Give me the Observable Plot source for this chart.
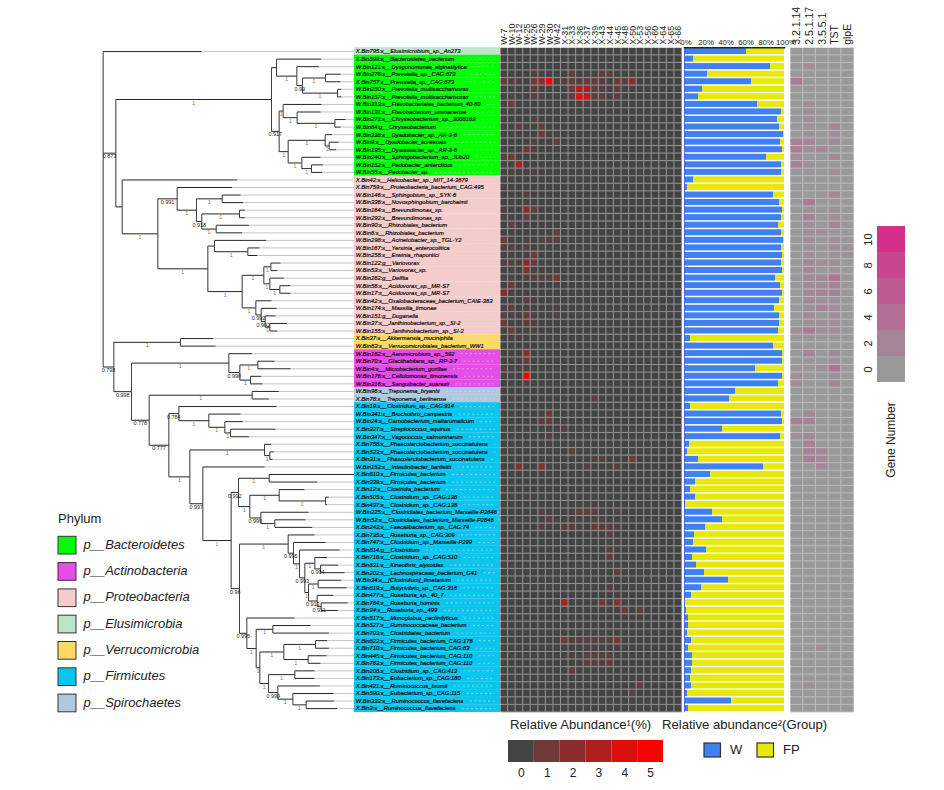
<!DOCTYPE html>
<html><head><meta charset="utf-8">
<script src="https://cdn.jsdelivr.net/npm/d3@7"></script>
<script src="https://cdn.jsdelivr.net/npm/@observablehq/plot@0.6"></script>
<style>
html,body{margin:0;padding:0;background:#fff}
#chart{position:relative;width:944px;height:790px;overflow:hidden;font-family:"Liberation Sans",Arial,sans-serif;color:#222}
#chart svg{position:absolute;max-width:none;overflow:visible}
.t{position:absolute;white-space:nowrap}
</style></head><body><div id="chart"></div>
<script>
const labels = ["X.Bin795:s__Elusimicrobium_sp._An273","X.Bin599:s__Bacteroidetes_bacterium","W.Bin121:s__Dysgonomonas_alginatilytica","W.Bin276:s__Prevotella_sp._CAG:873","X.Bin757:s__Prevotella_sp._CAG:873","W.Bin250:s__Prevotella_multisaccharivorax","W.Bin157:s__Prevotella_multisaccharivorax","W.Bin313:s__Flavobacteriales_bacterium_40-80","W.Bin131:s__Flavobacterium_ummariense","W.Bin271:s__Chryseobacterium_sp._3008163","W.Bin84:g__Chryseobacterium","W.Bin338:s__Dyadobacter_sp._AR-3-6","W.Bin9:s__Dyadobacter_koreensis","W.Bin195:s__Dyadobacter_sp._AR-3-6","W.Bin240:s__Sphingobacterium_sp._JUb20","W.Bin152:s__Pedobacter_antarcticus","W.Bin55:s__Pedobacter_sp.","X.Bin42:s__Helicobacter_sp._MIT_14-3879","X.Bin759:s__Proteobacteria_bacterium_CAG:495","W.Bin146:s__Sphingobium_sp._SYK-6","W.Bin336:s__Novosphingobium_barchaimii","W.Bin164:s__Brevundimonas_sp.","W.Bin292:s__Brevundimonas_sp.","W.Bin90:s__Rhizobiales_bacterium","W.Bin6:s__Rhizobiales_bacterium","W.Bin298:s__Acinetobacter_sp._TGL-Y2","W.Bin167:s__Yersinia_enterocolitica","W.Bin258:s__Erwinia_rhapontici","W.Bin122:g__Variovorax","W.Bin53:s__Variovorax_sp.","W.Bin262:g__Delftia","W.Bin56:s__Acidovorax_sp._MR-S7","W.Bin17:s__Acidovorax_sp._MR-S7","W.Bin42:s__Oxalobacteraceae_bacterium_CAIE-383","W.Bin174:s__Massilia_timonae","W.Bin151:g__Duganella","W.Bin37:s__Janthinobacterium_sp._SI-2","W.Bin155:s__Janthinobacterium_sp._SI-2","X.Bin37:s__Akkermansia_muciniphila","W.Bin83:s__Verrucomicrobiales_bacterium_WW1","W.Bin162:s__Aeromicrobium_sp._592","W.Bin70:s__Glaciihabitans_sp._RP-3-7","W.Bin4:s__Microbacterium_gorillae","W.Bin176:s__Cellulomonas_timonensis","W.Bin316:s__Sanguibacter_suarezii","W.Bin96:s__Treponema_bryantii","X.Bin78:s__Treponema_berlinense","X.Bin19:s__Clostridium_sp._CAG:914","W.Bin341:s__Brochothrix_campestris","W.Bin24:s__Carnobacterium_maltaromaticum","X.Bin327:s__Streptococcus_equinus","W.Bin347:s__Vagococcus_salmoninarum","X.Bin758:s__Phascolarctobacterium_succinatutens","X.Bin523:s__Phascolarctobacterium_succinatutens","X.Bin31:s__Phascolarctobacterium_succinatutens","W.Bin153:s__Intestinibacter_bartlettii","X.Bin610:s__Firmicutes_bacterium","X.Bin339:s__Firmicutes_bacterium","X.Bin12:s__Clostridia_bacterium","X.Bin505:s__Clostridium_sp._CAG:138","X.Bin437:s__Clostridium_sp._CAG:138","W.Bin225:s__Clostridiales_bacterium_Marseille-P2846","W.Bin52:s__Clostridiales_bacterium_Marseille-P2846","X.Bin243:s__Faecalibacterium_sp._CAG:74","X.Bin735:s__Roseburia_sp._CAG:309","X.Bin747:s__Clostridium_sp._Marseille-P299","X.Bin814:g__Clostridium","X.Bin716:s__Clostridium_sp._CAG:510","X.Bin831:s__Kineothrix_alysoides","X.Bin202:s__Lachnospiraceae_bacterium_G41","W.Bin34:s__[Clostridium]_fimetarium","X.Bin819:s__Butyrivibrio_sp._CAG:318","X.Bin477:s__Roseburia_sp._40_7","X.Bin784:s__Roseburia_hominis","X.Bin34:s__Roseburia_sp._499","X.Bin517:s__Monoglobus_pectinilyticus","X.Bin527:s__Ruminococcaceae_bacterium","X.Bin703:s__Clostridiales_bacterium","X.Bin822:s__Firmicutes_bacterium_CAG:176","X.Bin710:s__Firmicutes_bacterium_CAG:83","X.Bin445:s__Firmicutes_bacterium_CAG:110","X.Bin783:s__Firmicutes_bacterium_CAG:110","X.Bin208:s__Clostridium_sp._CAG:413","X.Bin173:s__Eubacterium_sp._CAG:180","X.Bin421:s__Ruminococcus_bromii","X.Bin590:s__Eubacterium_sp._CAG:115","W.Bin333:s__Ruminococcus_flavefaciens","X.Bin3:s__Ruminococcus_flavefaciens"];

const phyla = ["p__Bacteroidetes","p__Actinobacteria","p__Proteobacteria","p__Elusimicrobia","p__Verrucomicrobia","p__Firmicutes","p__Spirochaetes"];
const phylumColors = ["#00ff00","#e64ce8","#f4cccc","#bde5c8","#ffd966","#0ac5ee","#b0c9de"];
const phylumRuns = [["p__Elusimicrobia",1],["p__Bacteroidetes",16],["p__Proteobacteria",21],["p__Verrucomicrobia",2],["p__Actinobacteria",5],["p__Spirochaetes",2],["p__Firmicutes",41]];

const sampleCols = ["W-7","W-10","W-12","W-25","W-26","W-29","W-30","W-42","X-31","X-33","X-36","X-37","X-39","X-43","X-44","X-45","X-48","X-50","X-53","X-56","X-60","X-64","X-65","X-66"];
// [row, column, relative abundance %]; every other cell is about 0
const abundance = [[3,4,.4],[3,5,.3],[3,9,.8],[3,13,.7],[3,14,.7],
[4,0,.9],[4,1,.5],[4,2,.3],[4,4,1.4],[4,5,1.8],[4,6,5],[4,8,.6],[4,9,.8],[4,10,.3],[4,11,.8],[4,12,.8],[4,13,.5],[4,15,1.5],[4,16,.5],[4,17,2],
[5,4,.6],[5,9,.9],[5,10,3],[5,11,3],[5,12,.7],[5,13,.3],[5,15,.5],[6,1,.3],[6,4,.5],[6,5,.3],[6,9,.7],[6,10,4],[6,11,3.5],[6,12,.5],[6,13,.5],[6,15,.6],
[7,1,.8],[8,6,.2],[9,4,.4],[10,2,.6],[10,5,.8],[11,5,.9],[11,6,.3],[12,4,.2],[12,7,.7],[13,3,1.2],[13,4,.3],[14,0,.4],[14,1,1.2],[15,2,3],[16,1,.3],[16,4,.2],
[19,3,.4],[20,3,.2],[21,0,.4],[21,3,1.8],[21,4,.5],[22,0,.2],[22,3,.8],[23,1,.7],[24,7,.7],[25,0,.9],[25,3,.2],[25,5,.3],[25,6,.5],[25,7,.5],[26,0,.4],[26,1,.3],[26,3,.3],[27,4,1],
[28,0,.4],[28,1,.4],[28,2,.3],[28,3,1.9],[28,4,.8],[29,3,1.7],[30,0,.4],[30,1,.3],[30,3,.4],[30,4,.4],[30,5,.4],[30,6,.4],[30,7,1.5],[31,1,1.2],[32,0,2],[33,3,.6],[34,1,.6],[34,3,.2],
[35,0,.5],[35,3,.9],[35,4,.2],[35,7,.2],[36,0,.9],[36,3,.5],[36,4,.3],[37,1,1.1],[37,3,.2],[37,4,.3],[40,3,1.8],[41,3,1.2],[42,0,.4],[43,3,5],[44,3,.5],
[46,12,.5],[48,6,1],[49,5,.6],[49,6,.9],[50,8,.4],[51,6,.5],[53,9,.7],[54,12,.4],[54,13,.4],[54,17,1],[55,2,1.8],[55,5,1.7],[55,11,.3],[55,15,.4],
[61,5,.4],[61,10,.5],[61,11,.6],[61,12,.5],[61,15,.3],[62,6,.7],[62,9,.2],[62,12,.3],[62,13,.3],[63,5,.5],[63,8,.5],[63,9,.7],[63,10,.3],[63,12,.7],[63,13,.6],[63,14,.5],[63,15,.5],
[64,14,.5],[66,14,.6],[67,14,.8],[69,15,.7],[71,14,.3],[73,8,2.8],[73,13,.9],[73,15,1.7],[74,16,.9],[74,18,.7],[78,8,1],[78,9,.3],[78,10,.4],[78,11,.4],[78,12,.4],[78,13,.4],[78,14,.5],[78,15,1.6],
[80,9,.4],[80,11,.5],[80,12,.5],[80,13,.3],[80,14,.3],[81,11,.6],[81,12,.5],[81,13,.5],[81,14,.6],[82,9,.8],[84,18,.7],[85,17,.7]];
const abundanceStops = [0,1,2,3,4,5];
const abundanceColors = ["#444444","#6e3a3a","#8b2c2c","#b01e1e","#dc0f0f","#ff0000"];

// share of group W in each row (%), the rest is FP
const shareW = [62,9,86,23,67,18,14,73,97,93,95,99,96,98,82,97,97,9,3,89,95,98,97,94,97,99,97,98,97,98,91,96,98,95,90,95,95,94,6,89,98,98,71,98,94,51,45,6,97,98,38,96,5,3,14,79,26,11,6,11,1,28,38,21,10,9,22,8,12,20,44,17,7,0.5,2,4,4,3,7,4,8,8,7,6,7,3,47,4];
const groups = ["W","FP"];
const groupColors = ["#4080f0","#e8e80a"];
const shareTicks = [0,20,40,60,80,100];

const genes = ["3.2.1.14","2.5.1.17","3.5.5.1","TST","glpE"];
// [row, gene, gene number]; every other cell is 0
const geneCounts = [[2,1,1],[4,0,3],[7,1,1],[8,1,1],[9,1,1],[10,1,.8],[10,3,1.5],[11,1,.8],[11,3,1],[12,0,2.5],[12,1,2],[12,3,1.5],[13,0,2.5],[13,1,1],[13,2,1.5],[14,0,1],[14,3,1.5],[15,0,2.5],[15,1,1],[16,0,.5],[16,1,.5],[16,3,1],[19,3,1.5],[20,1,3],
[21,1,.6],[21,3,.7],[22,1,2],[22,3,1],[23,1,1],[23,3,2],[24,1,1],[24,2,1],[25,1,1],[25,3,1],[26,1,.5],[26,3,.8],[26,4,.7],[27,1,1],[27,3,.8],[27,4,.7],[28,1,1.5],[28,2,1],[28,3,1],[29,1,1.5],[29,3,.5],[30,1,1.5],[30,2,1.5],[30,3,3.5],[31,1,1.5],[31,2,1.5],[31,3,2],[32,1,1.5],[32,2,2],[32,3,2],[33,1,1.5],[33,2,1],[33,3,1],[34,1,1],[34,2,2],[34,3,1],[35,1,1.2],[35,3,1],[36,1,.8],[36,2,1],[36,3,1],[37,0,1],[37,1,3],[37,2,1],[37,3,1],
[40,1,1.8],[40,3,1.7],[41,3,.7],[42,2,1],[42,3,3.5],[43,0,1],[43,3,.7],[44,0,1],[44,3,1.8],[48,1,1.5],[49,0,2.5],[49,1,2],[51,0,1],[51,1,1.5],[52,1,2.5],[53,1,2],[53,2,1.5],[54,1,2.5],[54,2,1.5],[55,2,1.5],[79,2,1],[84,1,1]];
const geneStops = [0,2,4,6,8,10];
const geneLow = "#999999", geneHigh = "#d6308e";

// Tree: [node depth, support, ...children]; a number is a leaf tip depth, in row order
const tree = [38,null,333,
 [76,0.873,
  [543,1,
   [558,null,692,[619,1,685,[636,0.99,[705,1,750,750],[741,1,752,752]]]],
   [566,0.917,
    [578,1,693,[620,1,690,[733,1,765,750]]],
    [593,1,[704,1,725,[716,1,745,737]],[634,1,690,[663,1,697,695]]]]],
  [95,null,440,
   [202,1,
    [260,0.991,425,[318,1,[395,1,450,458],[334,0.918,[447,1,463,463],[377,1,475,455]]]],
    [352,1,
     [372,null,527,[472,1,507,500]],
     [455,1,
      [520,1,[541,1,570,560],[538,1,580,[568,1,600,600]]],
      [496,1,543,[512,0.992,558,[524,0.992,555,[538,1,590,560]]]]]]]]],
 [70,0.798,
  [270,1,368,375],
  [123,0.998,
   [415,1,485,[448,0.998,[502,1,552,600],[480,1,512,516]]],
   [176,0.778,
    [485,1,565,535],
    [235,0.777,
     [265,0.784,558,[355,1,450,[403,1,457,[420,1,555,475]]]],
     [298,1,
      [522,1,542,[538,1,550,546]],
      [337,0.997,522,
       [422,1,
        [444,0.992,
         [536,1,793,680],
         [478,1,[566,1,642,[705,1,715,710]],[511,0.999,654,[553,1,645,665]]]],
        [447,0.96,
         [593,1,672,[609,0.995,705,[627,1,747,[643,0.993,
            [673,1,710,[690,0.994,743,762]],
            [654,1,[683,1,752,768],[680,0.913,728,[692,0.911,772,742]]]]]]],
         [469,0.995,612,
          [497,1,
           [547,1,660,715],
           [508,1,
            [580,1,[675,1,710,715],[653,1,708,690]],
            [534,1,[613,1,672,672],[562,0.999,688,[607,1,728,[647,1,730,740]]]]]]]]]]]]]]]];
const tipEnd = 793;

/* ---------- derived tables ---------- */
const chart = document.getElementById("chart");
const rows = d3.range(labels.length);
const rowPhylum = phylumRuns.flatMap(([p,n]) => Array(n).fill(p));
const top0 = 47.3, bottom0 = 711.9, H = 790;
const rowY = {domain: rows, range:[top0,bottom0], padding:0, round:false, axis:null};

const heatKey = new Map(abundance.map(([r,c,v]) => [r+"|"+c, v]));
const heatCells = rows.flatMap(r => sampleCols.map((s,c) => ({r, s, v: heatKey.get(r+"|"+c) || 0})));
const geneKey = new Map(geneCounts.map(([r,c,v]) => [r+"|"+c, v]));
const geneCells = rows.flatMap(r => genes.map((g,c) => ({r, g, v: geneKey.get(r+"|"+c) || 0})));
const shares = rows.flatMap(r => [{r, g:"W", v:shareW[r]},{r, g:"FP", v:100-shareW[r]}]);

const hLines = [], vLines = [], tips = [], support = [];
let leaf = 0, alt = 0;
function walk(n, px){
  if (typeof n === "number"){
    const y = leaf++;
    if (px != null) hLines.push({x1:px,x2:n,y});
    tips.push({x1:n,x2:tipEnd,y});
    return y;
  }
  const [x,b,...kids] = n;
  const ys = kids.map(k => walk(k,x));
  const y = (ys[0]+ys[ys.length-1])/2;
  vLines.push({x,y1:ys[0],y2:ys[ys.length-1]});
  if (px != null){
    hLines.push({x1:px,x2:x,y});
    if (b != null) support.push({x:(px+x)/2,y,b,odd:(alt++)%3===2});
  }
  return y;
}
walk(tree,null);

function add(plot,left,top){
  plot.style.left = left+"px"; plot.style.top = (top||0)+"px";
  chart.appendChild(plot);
}
const base = {marginTop:top0, marginBottom:H-bottom0, height:H, marginLeft:0, marginRight:0, style:{background:"transparent",fontFamily:"Liberation Sans, Arial, sans-serif",overflow:"visible"}};

/* ---------- tree ---------- */
add(Plot.plot({...base, width:265,
  x:{domain:[0,795],range:[0,265],axis:null},
  y:{domain:[-0.5,87.5],range:[top0,bottom0],axis:null},
  marks:[
    Plot.link(tips,{x1:"x1",x2:"x2",y1:"y",y2:"y",stroke:"#c4c4c4",strokeWidth:1}),
    Plot.link(hLines,{x1:"x1",x2:"x2",y1:"y",y2:"y",stroke:"#1a1a1a",strokeWidth:0.95}),
    Plot.link(vLines,{x1:"x",x2:"x",y1:"y1",y2:"y2",stroke:"#404040",strokeWidth:1.05}),
    Plot.text(support,{x:"x",y:"y",dy:3.4,text:d=>d.b===1?"1":String(d.b),fontSize:5.4,
      fill:d=>d.b===1?(d.odd?"#2f7fd0":"#c0641a"):"#1a1a1a"})
  ]}),90);

/* ---------- leaf labels ---------- */
const ctx = document.createElement("canvas").getContext("2d");
ctx.font = "italic 5.8px 'Liberation Sans'";
add(Plot.plot({...base, width:146,
  x:{domain:[0,146],range:[0,146],axis:null},
  y:rowY,
  color:{domain:phyla,range:phylumColors},
  marks:[
    Plot.barX(rows,{x1:()=>0,x2:()=>146,y:d=>d,fill:d=>rowPhylum[d],insetTop:-0.1,insetBottom:-0.1}),
    Plot.ruleY(rows,{y:d=>d,x1:d=>ctx.measureText(labels[d]).width+8,x2:()=>141,stroke:"#dddddd",strokeOpacity:0.75,strokeWidth:0.8,strokeDasharray:"2,2.6"}),
    Plot.text(rows,{x:()=>1.2,y:d=>d,text:d=>labels[d],textAnchor:"start",fontSize:5.8,fontStyle:"italic",fontWeight:500,fill:"#0a0a0a",stroke:"#0a0a0a",strokeWidth:0.18,paintOrder:"stroke"})
  ]}),354);

/* ---------- relative abundance heat map ---------- */
add(Plot.plot({...base, width:181.5,
  x:{domain:sampleCols,range:[0,181.5],padding:0,round:false,axis:null},
  y:rowY,
  color:{type:"linear",domain:abundanceStops,range:abundanceColors,interpolate:"rgb"},
  marks:[
    Plot.frame({fill:"#8f8f8f"}),
    Plot.cell(heatCells,{x:"s",y:"r",fill:"v",inset:0.55}),
    Plot.axisX({anchor:"top",tickSize:0,tickPadding:3,tickRotate:-90,fontSize:9,label:null,fill:"#222"})
  ]}),499.5);

/* ---------- group share bars ---------- */
add(Plot.plot({...base, width:130, marginLeft:14, marginRight:16,
  x:{domain:[0,100],axis:null},
  y:rowY,
  color:{domain:groups,range:groupColors},
  marks:[
    Plot.barX(shares,{x:"v",y:"r",fill:"g",insetTop:0.7,insetBottom:0.8,order:groups}),
    Plot.ruleX([0],{stroke:"#4a5cf0",strokeWidth:0.9}),
    Plot.frame({anchor:"top",stroke:"#222",strokeWidth:1.6}),
    Plot.axisX({anchor:"top",ticks:shareTicks,tickSize:0,tickPadding:3,tickFormat:d=>d+"%",fontSize:7.8,label:null,fill:"#222",dx:1.5})
  ]}),670);

/* ---------- gene heat map ---------- */
add(Plot.plot({...base, width:63.5,
  x:{domain:genes,range:[0,63.5],padding:0,round:false,axis:null},
  y:rowY,
  color:{type:"linear",domain:[0,10],range:[geneLow,geneHigh],interpolate:"rgb"},
  marks:[
    Plot.frame({fill:"#bcbcbc"}),
    Plot.cell(geneCells,{x:"g",y:"r",fill:"v",inset:0.5}),
    Plot.axisX({anchor:"top",tickSize:0,tickPadding:3,tickRotate:-90,fontSize:10.5,label:null,fill:"#222"})
  ]}),790);

/* ---------- phylum legend ---------- */
add(Plot.plot({width:180,height:198,marginTop:0,marginBottom:0,marginLeft:1,marginRight:0,
  style:{background:"transparent",fontFamily:"Liberation Sans, Arial, sans-serif"},
  x:{domain:["s"],range:[1,19],padding:0,round:false,axis:null},
  y:{domain:phyla,range:[0,184.1],padding:0,round:false,axis:null},
  color:{domain:phyla,range:phylumColors},
  marks:[
    Plot.cell(phyla,{x:()=>"s",y:d=>d,fill:d=>d,stroke:"#333",strokeWidth:1,insetTop:4.3,insetBottom:4.3}),
    Plot.text(phyla,{x:()=>"s",y:d=>d,text:d=>d,dx:16,dy:-1,textAnchor:"start",fontSize:13,fontStyle:"italic",fill:"#222"})
  ]}),57,532);

/* ---------- abundance legend ---------- */
add(Plot.plot({width:155,height:44,marginTop:0,marginBottom:17,marginLeft:0,marginRight:0,
  style:{background:"transparent",fontFamily:"Liberation Sans, Arial, sans-serif"},
  x:{domain:abundanceStops,range:[0,155],padding:0,round:false,axis:null},
  y:{domain:["s"],axis:null},
  color:{type:"linear",domain:abundanceStops,range:abundanceColors,interpolate:"rgb"},
  marks:[
    Plot.cell(abundanceStops,{x:d=>d,y:()=>"s",fill:d=>d}),
    Plot.axisX({anchor:"bottom",tickSize:0,tickPadding:4,fontSize:12,label:null,fill:"#222"})
  ]}),508,737);

/* ---------- group legend ---------- */
add(Plot.plot({width:110,height:20,margin:0,
  style:{background:"transparent",fontFamily:"Liberation Sans, Arial, sans-serif"},
  x:{domain:groups,range:[0,106],padding:0,round:false,axis:null},
  y:{domain:["s"],axis:null},
  color:{domain:groups,range:groupColors},
  marks:[
    Plot.cell(groups,{x:d=>d,y:()=>"s",fill:d=>d,stroke:"#333",strokeWidth:1.2,insetLeft:1,insetRight:35.5,insetTop:1,insetBottom:1}),
    Plot.text(groups,{x:d=>d,y:()=>"s",text:d=>d,dx:0,dy:-0.5,textAnchor:"start",fontSize:13,fill:"#222"})
  ]}),703,739.5);

/* ---------- gene legend ---------- */
add(Plot.plot({width:50,height:156,marginTop:0,marginBottom:0,marginLeft:22,marginRight:0,
  style:{background:"transparent",fontFamily:"Liberation Sans, Arial, sans-serif"},
  x:{domain:["s"],range:[22,50],padding:0,round:false,axis:null},
  y:{domain:[...geneStops].reverse(),padding:0,round:false,axis:null},
  color:{type:"linear",domain:[0,10],range:[geneLow,geneHigh],interpolate:"rgb"},
  marks:[
    Plot.cell(geneStops,{x:()=>"s",y:d=>d,fill:d=>d}),
    Plot.axisY({anchor:"left",tickSize:0,tickPadding:5.5,tickRotate:-90,fontSize:11,label:null,fill:"#222"})
  ]}),855,226);

/* ---------- free text ---------- */
function txt(s,l,t,size,extra){
  const d=document.createElement("div"); d.className="t"; d.textContent=s;
  d.style.left=l+"px"; d.style.top=t+"px"; d.style.fontSize=size+"px";
  if(extra) Object.assign(d.style,extra); chart.appendChild(d);
}
txt("Phylum",58,511,13);
txt("Relative Abundance\u00b9(%)",510,716.5,13.1);
txt("Relative abundance\u00b2(Group)",662,716.5,13.1);
txt("Gene Number",891,440,12,{transform:"translate(-50%,-50%) rotate(-90deg)"});
</script></body></html>
